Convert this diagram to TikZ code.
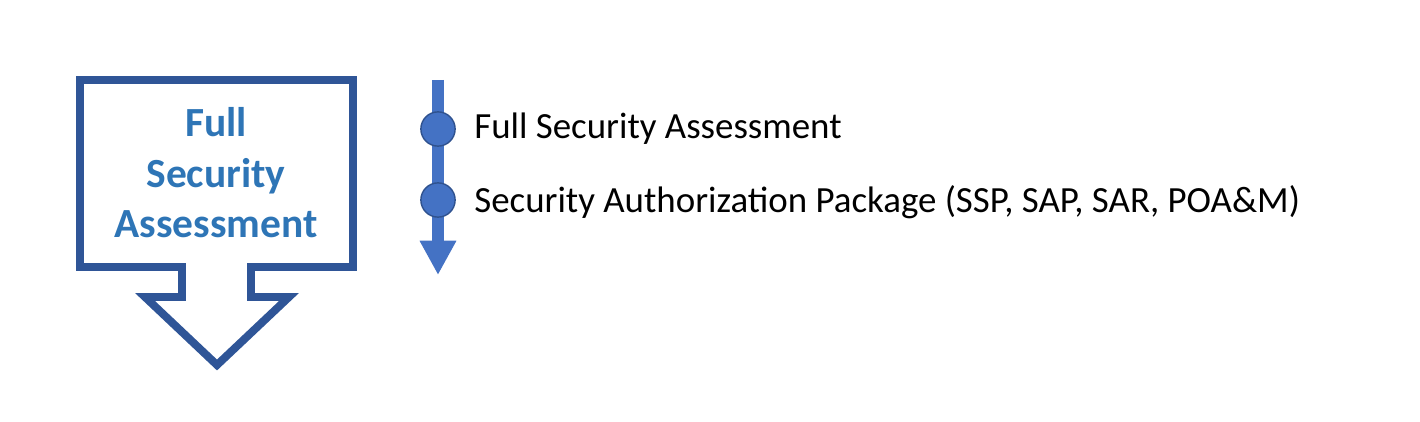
\documentclass[tikz,border=0pt]{standalone}
\usepackage{fontspec}
\setmainfont{Carlito}
\usetikzlibrary{arrows.meta,positioning}
\definecolor{BoxBlue}{HTML}{2F5597}
\definecolor{TextBlue}{HTML}{2E75B6}
\definecolor{LineBlue}{HTML}{4472C4}
\definecolor{DotEdge}{HTML}{2F528F}
\begin{document}
\begin{tikzpicture}[x=0.02cm,y=-0.02cm,
    callout/.style={draw=BoxBlue, line width=4.5pt, line join=miter},
    boxtext/.style={text=TextBlue, font=\fontsize{23.6}{28.8}\selectfont\bfseries, align=center},
    dot/.style={circle, draw=DotEdge, fill=LineBlue, line width=0.8pt, minimum size=19.5pt, inner sep=0pt},
    steptext/.style={anchor=west, font=\fontsize{21}{25}\selectfont, inner sep=0pt}]
    \useasboundingbox (0,0) rectangle (1420,422);

    % callout box with the down arrow
    \coordinate (BoxTL)   at (80,80);
    \coordinate (BoxTR)   at (353,80);
    \coordinate (BoxBR)   at (353,267);
    \coordinate (BoxBL)   at (80,267);
    \coordinate (ShaftR)  at (251,267);
    \coordinate (ShaftL)  at (182,267);
    \coordinate (HeadR)   at (289,297);
    \coordinate (HeadL)   at (145,297);
    \coordinate (Tip)     at (217,365);
    \draw [callout] (BoxTL) -- (BoxTR) -- (BoxBR) -- (ShaftR) -- (251,297)
        -- (HeadR) -- (Tip) -- (HeadL) -- (182,297) -- (ShaftL) -- (BoxBL) -- cycle;
    \node [boxtext] (BoxLabel) at (216,173) {Full\\Security\\Assessment};

    % timeline
    \coordinate (LineTop) at (438,80);
    \coordinate (LineEnd) at (438,275);
    \draw [LineBlue, line width=6.8pt, -{Triangle[width=19.5pt,length=19.5pt]}] (LineTop) -- (LineEnd);

    \node [dot] (StepOne) at (438,129) {};
    \node [dot] (StepTwo) at (438,200) {};
    \node [steptext] (StepOneText) at (474,129) {Full Security Assessment};
    \node [steptext] (StepTwoText) at (474,202) {Security Authorization Package (SSP, SAP, SAR, POA\&M)};
\end{tikzpicture}
\end{document}
